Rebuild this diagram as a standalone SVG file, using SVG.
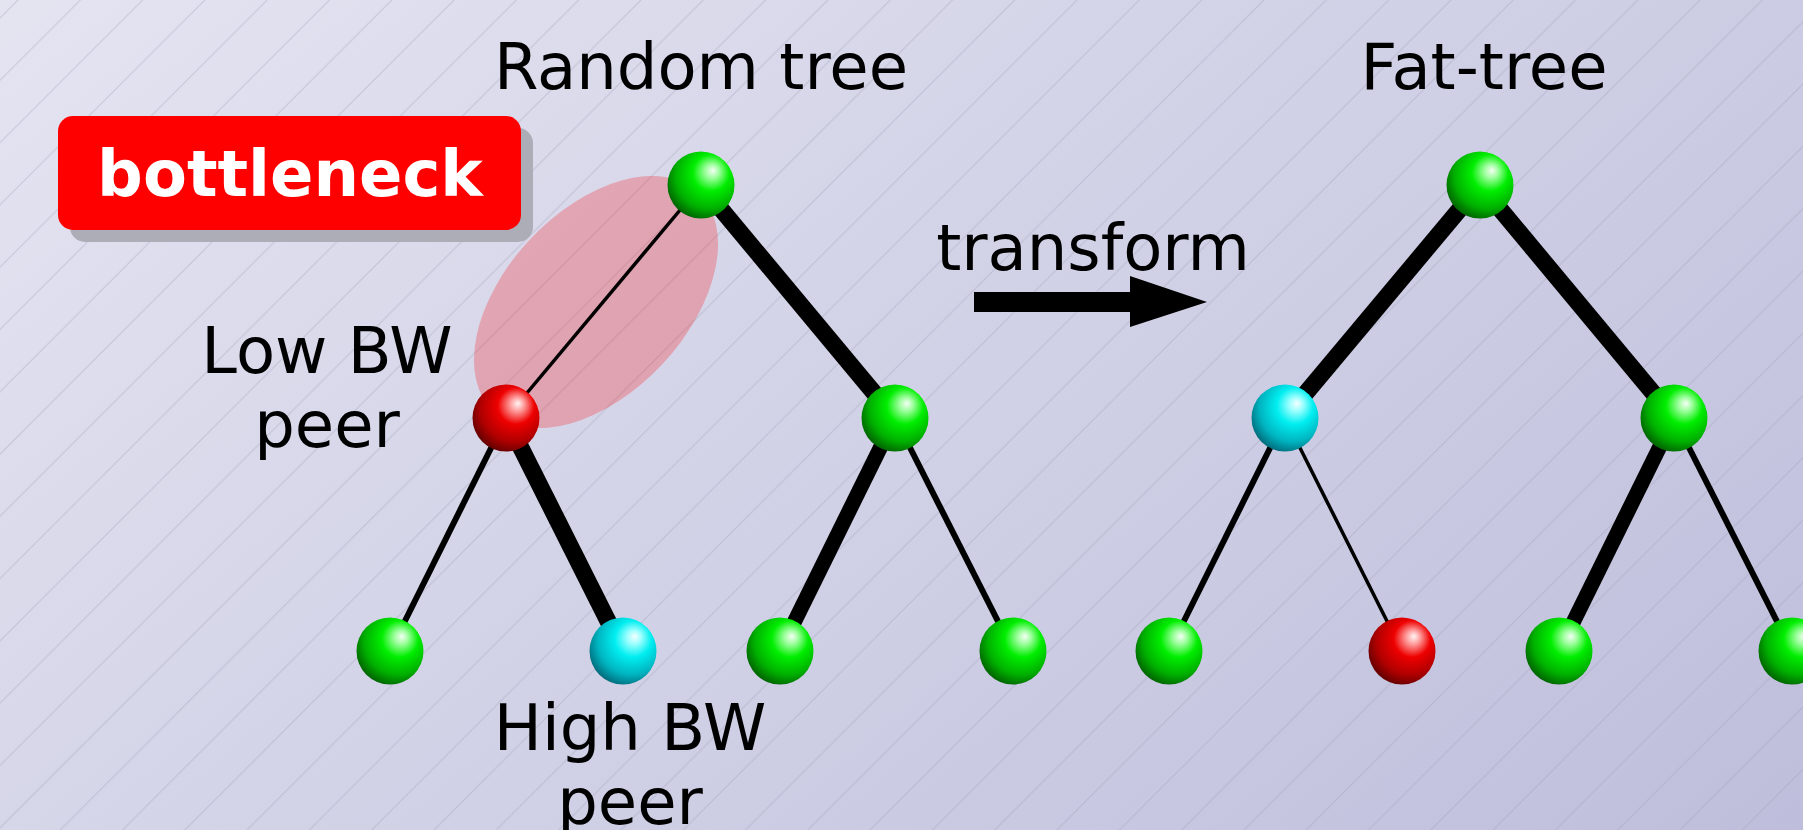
<svg xmlns="http://www.w3.org/2000/svg" width="1803" height="830" viewBox="0 0 1803 830">
  <defs>
    <linearGradient id="bg" gradientUnits="userSpaceOnUse" x1="0" y1="0" x2="1139" y2="1381">
      <stop offset="0" stop-color="#e4e4f1"/>
      <stop offset="1" stop-color="#bebedc"/>
    </linearGradient>
    <pattern id="hatch" patternUnits="userSpaceOnUse" width="62.3" height="62.3" patternTransform="translate(18,0)">
      <path d="M-2,2 L2,-2 M-2,64.3 L64.3,-2 M60.3,64.3 L64.3,60.3" stroke="#9c9cb4" stroke-opacity="0.4" stroke-width="1" fill="none"/>
    </pattern>
    <radialGradient id="ballGreen" cx="0.6" cy="0.38" r="0.72" fx="0.68" fy="0.28">
      <stop offset="0" stop-color="#f4fff4"/>
      <stop offset="0.14" stop-color="#a0ffa0"/>
      <stop offset="0.38" stop-color="#00ee00"/>
      <stop offset="0.7" stop-color="#00b000"/>
      <stop offset="0.92" stop-color="#006400"/>
      <stop offset="1" stop-color="#004400"/>
    </radialGradient>
    <radialGradient id="ballRed" cx="0.6" cy="0.38" r="0.72" fx="0.68" fy="0.28">
      <stop offset="0" stop-color="#fff4f4"/>
      <stop offset="0.14" stop-color="#ffa0a0"/>
      <stop offset="0.38" stop-color="#ee0000"/>
      <stop offset="0.7" stop-color="#b00000"/>
      <stop offset="0.92" stop-color="#640000"/>
      <stop offset="1" stop-color="#440000"/>
    </radialGradient>
    <radialGradient id="ballCyan" cx="0.6" cy="0.38" r="0.72" fx="0.68" fy="0.28">
      <stop offset="0" stop-color="#f4ffff"/>
      <stop offset="0.14" stop-color="#a0ffff"/>
      <stop offset="0.38" stop-color="#00eef0"/>
      <stop offset="0.7" stop-color="#00b4c0"/>
      <stop offset="0.92" stop-color="#006c7c"/>
      <stop offset="1" stop-color="#004c58"/>
    </radialGradient>
  </defs>
  <style>
    .lbl { font-family: "DejaVu Sans", "Liberation Sans", sans-serif; font-size: 64px; fill: #000; text-anchor: middle; }
    .tag { font-family: "DejaVu Sans", "Liberation Sans", sans-serif; font-size: 64px; font-weight: bold; fill: #fff; text-anchor: middle; }
    .link { stroke: #000; stroke-linecap: butt; fill: none; }
    .thin { stroke-width: 3.5; }
    .mid { stroke-width: 6; }
    .wide { stroke-width: 15; }
    .fat { stroke-width: 17; }
    .g { fill: url(#ballGreen); }
    .r { fill: url(#ballRed); }
    .c { fill: url(#ballCyan); }
  </style>

  <!-- background -->
  <rect width="1803" height="830" fill="url(#bg)"/>
  <rect width="1803" height="830" fill="url(#hatch)"/>

  <!-- highlighted weak link -->
  <ellipse id="bottleneck-area" cx="596" cy="302" rx="150" ry="91" transform="rotate(-47 596 302)" fill="#ff0000" fill-opacity="0.24"/>

  <!-- titles -->
  <text class="lbl" x="701" y="89">Random tree</text>
  <text class="lbl" x="1484" y="89">Fat-tree</text>

  <!-- bottleneck badge -->
  <g id="badge">
    <rect x="70" y="128" width="463" height="114" rx="15" fill="#adadb8"/>
    <rect x="58" y="116" width="463" height="114" rx="15" fill="#ff0000"/>
    <text class="tag" x="290" y="196">bottleneck</text>
  </g>

  <!-- peer labels -->
  <text class="lbl" x="327" y="373">Low BW</text>
  <text class="lbl" x="327" y="447">peer</text>
  <text class="lbl" x="630" y="750">High BW</text>
  <text class="lbl" x="630" y="824">peer</text>

  <!-- transform arrow -->
  <g id="transform">
    <text class="lbl" x="1093" y="270">transform</text>
    <rect x="974" y="292" width="157" height="20" fill="#000"/>
    <polygon points="1130,276 1207,302 1130,327" fill="#000"/>
  </g>

  <!-- tree links -->
  <g id="connectors">
    <line class="link thin" x1="701" y1="185" x2="506" y2="418"/>
    <line class="link fat" x1="701" y1="185" x2="895" y2="418"/>
    <line class="link mid" x1="506" y1="418" x2="390" y2="651"/>
    <line class="link fat" x1="506" y1="418" x2="623" y2="651"/>
    <line class="link wide" x1="895" y1="418" x2="780" y2="651"/>
    <line class="link mid" x1="895" y1="418" x2="1013" y2="651"/>

    <line class="link fat" x1="1480" y1="185" x2="1285" y2="418"/>
    <line class="link fat" x1="1480" y1="185" x2="1674" y2="418"/>
    <line class="link mid" x1="1285" y1="418" x2="1169" y2="651"/>
    <line class="link thin" x1="1285" y1="418" x2="1402" y2="651"/>
    <line class="link wide" x1="1674" y1="418" x2="1559" y2="651"/>
    <line class="link mid" x1="1674" y1="418" x2="1792" y2="651"/>
  </g>

  <!-- random tree peers -->
  <g id="rt-root"><circle class="g" cx="701" cy="185" r="33.5"/></g>
  <g id="rt-low"><circle class="r" cx="506" cy="418" r="33.5"/></g>
  <g id="rt-right"><circle class="g" cx="895" cy="418" r="33.5"/></g>
  <g id="rt-leaf1"><circle class="g" cx="390" cy="651" r="33.5"/></g>
  <g id="rt-high"><circle class="c" cx="623" cy="651" r="33.5"/></g>
  <g id="rt-leaf3"><circle class="g" cx="780" cy="651" r="33.5"/></g>
  <g id="rt-leaf4"><circle class="g" cx="1013" cy="651" r="33.5"/></g>

  <!-- fat-tree peers -->
  <g id="ft-root"><circle class="g" cx="1480" cy="185" r="33.5"/></g>
  <g id="ft-high"><circle class="c" cx="1285" cy="418" r="33.5"/></g>
  <g id="ft-right"><circle class="g" cx="1674" cy="418" r="33.5"/></g>
  <g id="ft-leaf1"><circle class="g" cx="1169" cy="651" r="33.5"/></g>
  <g id="ft-low"><circle class="r" cx="1402" cy="651" r="33.5"/></g>
  <g id="ft-leaf3"><circle class="g" cx="1559" cy="651" r="33.5"/></g>
  <g id="ft-leaf4"><circle class="g" cx="1792" cy="651" r="33.5"/></g>
</svg>
